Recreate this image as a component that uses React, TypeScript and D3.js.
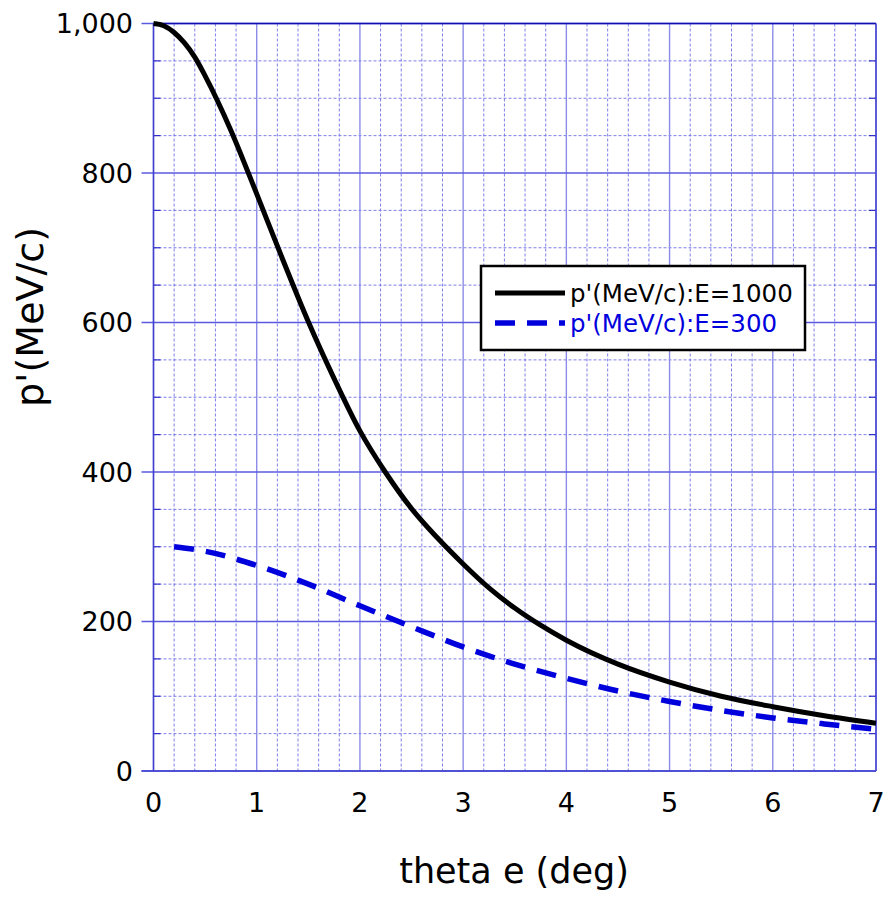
import React from "react";
import * as d3 from "d3";

const thetaE1000 = [0, 0.1, 0.2, 0.3, 0.4, 0.5, 0.75, 1.0, 1.25, 1.5, 1.75, 2.0, 2.25, 2.5, 2.75, 3.0, 3.25, 3.5, 3.75, 4.0, 4.5, 5.0, 5.5, 6.0, 6.5, 7.0];
const pE1000 = [1000, 997, 988, 974, 955, 930, 857, 772, 685, 601, 525, 455, 399, 351, 312, 277, 245, 218, 195, 175, 143, 119, 100, 86, 74, 64];

const thetaE300 = [0.2, 0.5, 1.0, 1.5, 2.0, 2.5, 3.0, 3.5, 4.0, 4.5, 5.0, 5.5, 6.0, 6.5, 7.0];
const pE300 = [300, 294, 275, 250, 221, 193, 166, 143, 124, 107, 93, 81, 71, 63, 56];

const xTicks = [0, 1, 2, 3, 4, 5, 6, 7];
const yTicks = [0, 200, 400, 600, 800, 1000];
const legendLabels = ["p'(MeV/c):E=1000", "p'(MeV/c):E=300"];

const W = 885, H = 900;
const L = 153.5, R = 876, T = 23.5, B = 771;
const FONT = "'DejaVu Sans', sans-serif";

export default function App() {
  const x = d3.scaleLinear().domain([0, 7]).range([L, R]);
  const y = d3.scaleLinear().domain([0, 1000]).range([B, T]);
  const line = d3.line<[number, number]>().x(d => x(d[0])).y(d => y(d[1])).curve(d3.curveMonotoneX);
  const s1 = thetaE1000.map((t, i) => [t, pE1000[i]] as [number, number]);
  const s2 = thetaE300.map((t, i) => [t, pE300[i]] as [number, number]);
  const xMinor = d3.range(0, 7.0001, 0.2).filter(v => Math.abs(v - Math.round(v)) > 1e-6);
  const yMinor = d3.range(0, 1000.001, 50).filter(v => v % 200 !== 0);
  const grid = "#6a6ae6";
  return (
    <svg width={W} height={H} style={{ position: "absolute", left: 0, top: 0, background: "#fff" }}>
      {xMinor.map(v => (
        <line key={"xm" + v} x1={x(v)} x2={x(v)} y1={T} y2={B} stroke={grid} strokeWidth={1} strokeDasharray="3,2" opacity={0.85} />
      ))}
      {yMinor.map(v => (
        <line key={"ym" + v} x1={L} x2={R} y1={y(v)} y2={y(v)} stroke={grid} strokeWidth={1} strokeDasharray="3,2" opacity={0.85} />
      ))}
      {xTicks.map(v => (
        <line key={"xM" + v} x1={x(v)} x2={x(v)} y1={T} y2={B} stroke="#8c8ce8" strokeWidth={1.4} />
      ))}
      {yTicks.map(v => (
        <line key={"yM" + v} x1={L - 12} x2={R} y1={y(v)} y2={y(v)} stroke="#5a5ae0" strokeWidth={1.3} />
      ))}
      {yMinor.map(v => (
        <g key={"yt" + v}>
          <line x1={L} x2={L + 7} y1={y(v)} y2={y(v)} stroke="#3030c8" strokeWidth={1.2} />
          <line x1={R - 7} x2={R} y1={y(v)} y2={y(v)} stroke="#3030c8" strokeWidth={1.2} />
        </g>
      ))}
      <line x1={L} x2={R} y1={T} y2={T} stroke="#1010b0" strokeWidth={1.5} />
      <line x1={L} x2={L} y1={T} y2={B} stroke="#4040d0" strokeWidth={1.5} />
      <line x1={R} x2={R} y1={T} y2={B} stroke="#4040d0" strokeWidth={1.5} />
      <line x1={L - 12} x2={R} y1={B} y2={B} stroke="#4040d0" strokeWidth={1.5} />

      <path d={line(s2) || ""} fill="none" stroke="#0000dd" strokeWidth={5.5} strokeDasharray="20,12" />
      <path d={line(s1) || ""} fill="none" stroke="#000" strokeWidth={5} strokeLinejoin="round" />

      {yTicks.map(v => (
        <text key={"yl" + v} x={133} y={y(v)} dy="0.36em" textAnchor="end" fontFamily={FONT} fontSize={27} fill="#000">
          {d3.format(",")(v)}
        </text>
      ))}
      {xTicks.map(v => (
        <text key={"xl" + v} x={x(v)} y={812} textAnchor="middle" fontFamily={FONT} fontSize={27} fill="#000">
          {v}
        </text>
      ))}
      <text x={514} y={883} textAnchor="middle" fontFamily={FONT} fontSize={35} fill="#000">theta e (deg)</text>
      <text transform="translate(43,317) rotate(-90)" textAnchor="middle" fontFamily={FONT} fontSize={38} fill="#000">p'(MeV/c)</text>

      <rect x={481} y={266} width={324} height={84} fill="#fff" stroke="#000" strokeWidth={2.5} />
      <line x1={495} x2={565} y1={293} y2={293} stroke="#000" strokeWidth={5} />
      <line x1={495} x2={565} y1={323} y2={323} stroke="#0000dd" strokeWidth={5.5} strokeDasharray="20,12" />
      <text x={570} y={302} fontFamily={FONT} fontSize={24.5} fill="#000">{legendLabels[0]}</text>
      <text x={570} y={332} fontFamily={FONT} fontSize={24.5} fill="#0000dd">{legendLabels[1]}</text>
    </svg>
  );
}
